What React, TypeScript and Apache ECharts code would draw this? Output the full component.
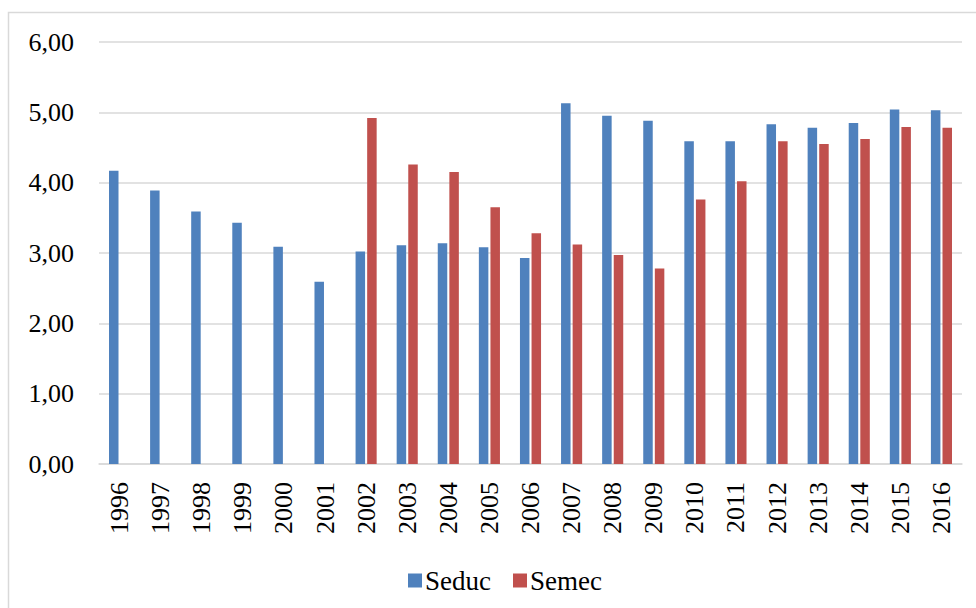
import React, { useEffect, useRef } from "react";
import * as echarts from "echarts";

const years = ["1996","1997","1998","1999","2000","2001","2002","2003","2004","2005","2006","2007","2008","2009","2010","2011","2012","2013","2014","2015","2016"];
const seduc = [4.17, 3.89, 3.59, 3.43, 3.09, 2.59, 3.02, 3.11, 3.14, 3.08, 2.93, 5.13, 4.95, 4.88, 4.59, 4.59, 4.83, 4.78, 4.85, 5.04, 5.03];
const semec = [null, null, null, null, null, null, 4.92, 4.26, 4.15, 3.65, 3.28, 3.12, 2.97, 2.78, 3.76, 4.02, 4.59, 4.55, 4.62, 4.79, 4.78];
const seriesNames = ["Seduc", "Semec"];
const colors = ["#4f81bd", "#c0504d"];

const FONT = "Liberation Serif";

export default function App() {
  const ref = useRef<HTMLDivElement>(null);
  useEffect(() => {
    if (!ref.current) return;
    const chart = echarts.init(ref.current, null, { renderer: "svg" });
    chart.setOption({
      animation: false,
      backgroundColor: "#ffffff",
      textStyle: { fontFamily: FONT },
      grid: { left: 99, right: 14, top: 42, bottom: 144, containLabel: false },
      legend: {
        data: seriesNames,
        left: 403,
        top: 562,
        itemWidth: 14,
        itemHeight: 14,
        itemGap: 22,
        icon: "rect",
        textStyle: { fontFamily: FONT, fontSize: 27, color: "#000", padding: [0, 0, 0, -2] },
      },
      graphic: [
        {
          type: "polyline",
          shape: { points: [[8.5, 608], [8.5, 12.5], [976, 12.5]] },
          style: { stroke: "#d9d9d9", lineWidth: 1.5, fill: "none" },
          silent: true,
        },
      ],
      xAxis: {
        type: "category",
        data: years,
        axisTick: { show: false },
        axisLine: { lineStyle: { color: "#d9d9d9", width: 1.5 } },
        axisLabel: {
          rotate: 90,
          margin: 18,
          fontSize: 26,
          fontFamily: FONT,
          color: "#000",
          interval: 0,
        },
      },
      yAxis: {
        type: "value",
        min: 0,
        max: 6,
        interval: 1,
        axisLine: { show: false },
        axisTick: { show: false },
        splitLine: { lineStyle: { color: "#d9d9d9", width: 1.5 } },
        axisLabel: {
          margin: 25,
          fontSize: 26,
          fontFamily: FONT,
          color: "#000",
          formatter: (v: number) => v.toFixed(2).replace(".", ","),
        },
      },
      series: [
        {
          name: seriesNames[0],
          type: "bar",
          data: seduc,
          barWidth: 9.5,
          barGap: "22%",
          itemStyle: { color: colors[0] },
        },
        {
          name: seriesNames[1],
          type: "bar",
          data: semec,
          barWidth: 9.5,
          barGap: "22%",
          itemStyle: { color: colors[1] },
        },
      ],
    });
    return () => chart.dispose();
  }, []);
  return (
    <div
      ref={ref}
      style={{ position: "absolute", left: 0, top: 0, width: 976, height: 608 }}
    />
  );
}
